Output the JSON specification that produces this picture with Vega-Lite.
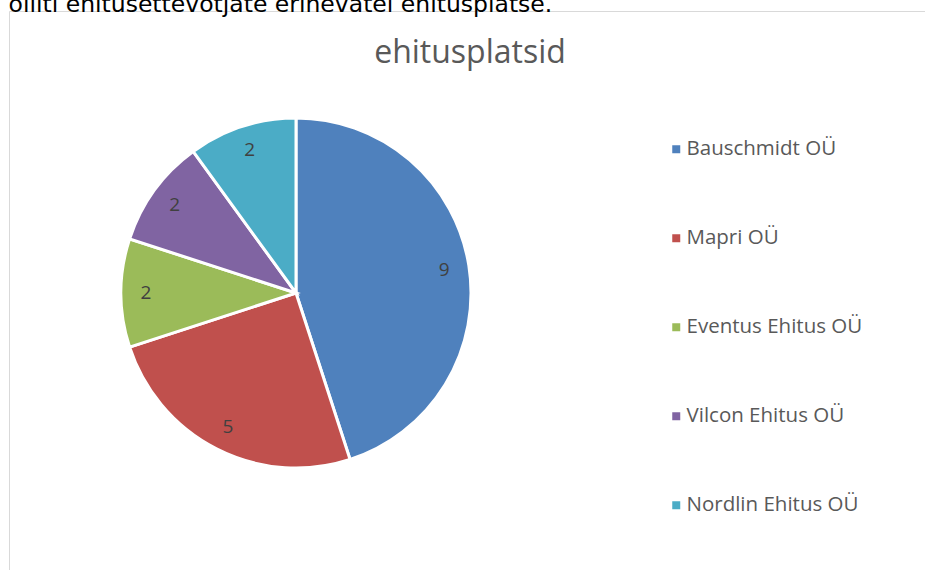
{
  "$schema": "https://vega.github.io/schema/vega-lite/v6.json",
  "autosize": {"type": "pad"},
  "padding": {"left": 8, "top": -7, "right": 0, "bottom": 0},
  "background": "white",
  "title": {
    "text": "olliti ehitusettevõtjate erinevatel ehitusplatse.",
    "anchor": "start",
    "frame": "bounds",
    "font": "DejaVu Sans",
    "fontSize": 23.5,
    "fontWeight": "normal",
    "color": "#000000",
    "offset": -6
  },
  "vconcat": [
    {
      "width": 922,
      "height": 564,
      "view": {"stroke": "#d9d9d9", "strokeWidth": 1},
      "title": {
        "text": "ehitusplatsid",
        "anchor": "middle",
        "font": "Open Sans",
        "fontSize": 32,
        "fontWeight": "normal",
        "color": "#595959",
        "offset": -59
      },
      "data": {
        "values": [
          {"company": "Bauschmidt OÜ", "value": 9, "rank": 1},
          {"company": "Mapri OÜ", "value": 5, "rank": 2},
          {"company": "Eventus Ehitus OÜ", "value": 2, "rank": 3},
          {"company": "Vilcon Ehitus OÜ", "value": 2, "rank": 4},
          {"company": "Nordlin Ehitus OÜ", "value": 2, "rank": 5}
        ]
      },
      "encoding": {
        "theta": {"field": "value", "type": "quantitative", "stack": true},
        "order": {"field": "rank", "type": "quantitative"},
        "color": {
          "field": "company",
          "type": "nominal",
          "sort": ["Bauschmidt OÜ", "Mapri OÜ", "Eventus Ehitus OÜ", "Vilcon Ehitus OÜ", "Nordlin Ehitus OÜ"],
          "scale": {
            "domain": ["Bauschmidt OÜ", "Mapri OÜ", "Eventus Ehitus OÜ", "Vilcon Ehitus OÜ", "Nordlin Ehitus OÜ"],
            "range": ["#4F81BD", "#C0504D", "#9BBB59", "#8064A2", "#4BACC6"]
          },
          "legend": {
            "orient": "none",
            "legendX": 657,
            "legendY": 128,
            "title": null,
            "symbolType": "square",
            "symbolSize": 64,
            "symbolStrokeWidth": 0,
            "labelFont": "Open Sans",
            "labelFontSize": 20.5,
            "labelColor": "#595959",
            "labelOffset": 0,
            "labelLimit": 400,
            "rowPadding": 68
          }
        }
      },
      "layer": [
        {
          "mark": {"type": "arc", "outerRadius": 175, "stroke": "white", "strokeWidth": 3, "x": 287}
        },
        {
          "mark": {"type": "text", "radius": 150, "x": 287, "font": "Open Sans", "fontSize": 19},
          "encoding": {
            "text": {"field": "value", "type": "quantitative"},
            "color": {"value": "#404040"}
          }
        }
      ]
    }
  ],
  "config": {
    "view": {"stroke": "#d9d9d9", "strokeWidth": 1},
    "concat": {"spacing": 0}
  }
}
